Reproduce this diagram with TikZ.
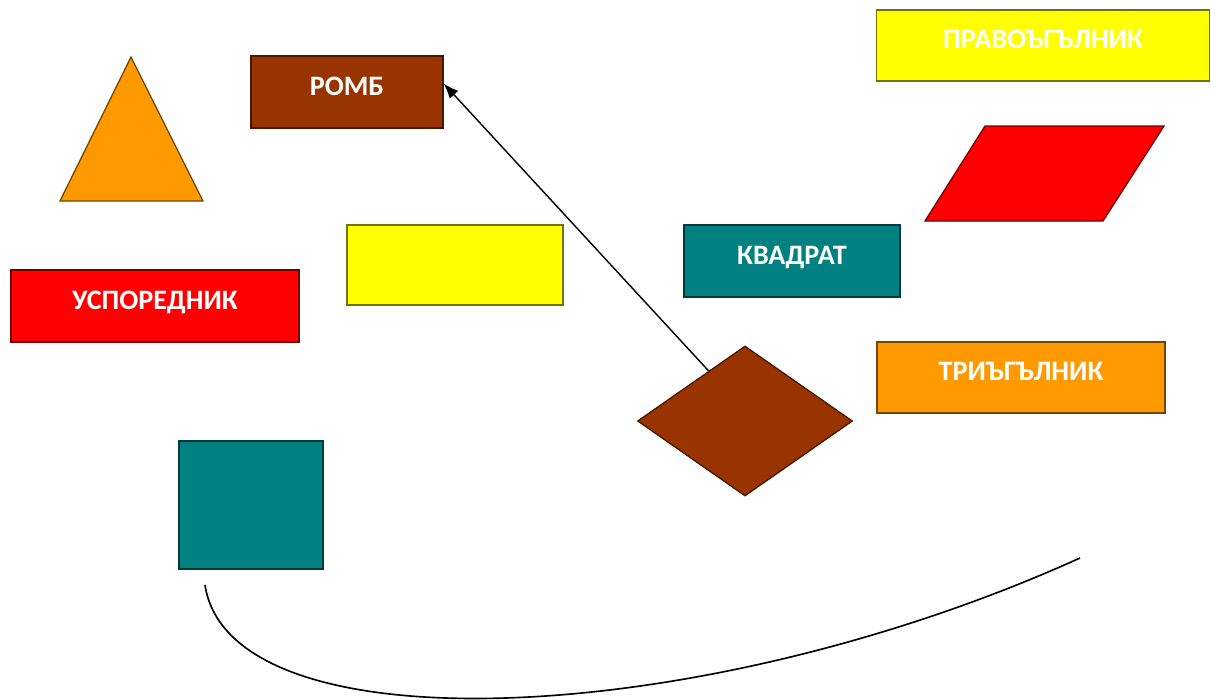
\documentclass[tikz,border=0pt]{standalone}
\usepackage{fontspec}
\setmainfont{Carlito}
\usetikzlibrary{shapes.geometric,arrows.meta}
\definecolor{kafyav}{HTML}{993300}
\definecolor{portokal}{HTML}{FF9900}
\definecolor{zhalt}{HTML}{FFFF00}
\definecolor{cherven}{HTML}{FF0000}
\definecolor{tyurkoaz}{HTML}{008080}
\tikzset{
	lik/.style={draw=#1!45!black, fill=#1, line width=1.1pt, inner sep=0pt,
		text=white, font=\fontsize{24}{26}\selectfont\bfseries, text depth=0.36cm},
}
\begin{document}
\begin{tikzpicture}[x=0.03cm,y=-0.03cm]
\useasboundingbox (0,0) rectangle (1211,699) ;
	\draw[lik=portokal] (131,57) -- (203,201) -- (60,201) -- cycle ;
	\draw[lik=cherven] (985,126) -- (1164,126) -- (1103,221) -- (925,221) -- cycle ;
		\node (romb)[lik=kafyav, minimum width=5.76cm, minimum height=2.16cm] at (347,92) {РОМБ} ;
		\node (prazen)[lik=zhalt, minimum width=6.48cm, minimum height=2.4cm] at (455,265) {} ;
		\node (uspor)[lik=cherven, minimum width=8.64cm, minimum height=2.16cm] at (155,306) {УСПОРЕДНИК} ;
		\node (kv)[lik=tyurkoaz, minimum width=4.32cm, minimum height=3.84cm] at (251,505) {} ;
		\node (kvadrat)[lik=tyurkoaz, minimum width=6.48cm, minimum height=2.16cm] at (792,261) {КВАДРАТ} ;
		\node (pravo)[lik=zhalt, minimum width=9.99cm, minimum height=2.13cm] at (1043,45.5) {ПРАВОЪГЪЛНИК} ;
		\node (tri)[lik=portokal, minimum width=8.64cm, minimum height=2.13cm] at (1021,377.5) {ТРИЪГЪЛНИК} ;
		\node (dia)[lik=kafyav, diamond, aspect=1.43, minimum width=6.45cm, minimum height=4.5cm] at (745,421) {} ;
		\coordinate (k1) at (205,585) ;
		\coordinate (k2) at (1080,558) ;
	\draw[line width=1.2pt, -{Latex[length=13pt,width=10pt]}] (dia.126) -- (romb.5) ;
	\draw[line width=1.4pt] (k1) .. controls (230,750) and (700,730) .. (k2) ;
\end{tikzpicture}
\end{document}
